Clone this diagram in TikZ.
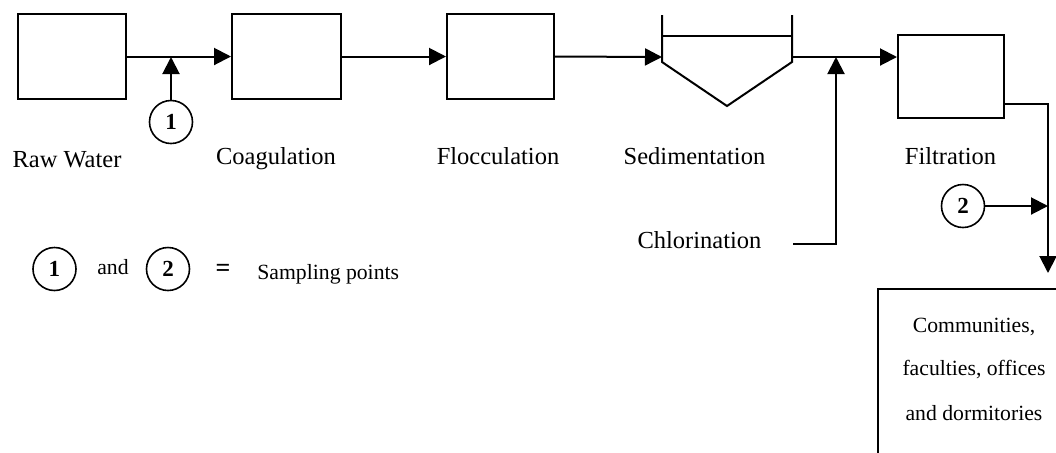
\documentclass[tikz,border=0pt]{standalone}
\usepackage{fontspec}
\setmainfont{Liberation Serif}
\usetikzlibrary{arrows.meta}
\begin{document}
\begin{tikzpicture}[x=0.5pt,y=-0.5pt,
  box/.style={draw,line width=1pt,inner sep=0pt,minimum height=42.5pt},
  flow/.style={line width=1pt,-{Triangle[length=8.5pt,width=8.5pt]}},
  pipe/.style={line width=1pt},
  lbl/.style={font=\fontsize{12.25}{14}\selectfont,anchor=base,inner sep=0pt},
  small/.style={font=\fontsize{10.85}{13}\selectfont,anchor=base,inner sep=0pt},
  spt/.style={draw,circle,line width=0.8pt,minimum size=21.5pt,inner sep=0pt,font=\fontsize{11.5}{13}\selectfont\bfseries}]
\useasboundingbox (0,0) rectangle (1056,452);
\clip (0,0) rectangle (1056,452);
% process boxes
\node[box,minimum width=54pt] (raw) at (72,56.5) {};
\node[box,minimum width=54.5pt] (coag) at (286.5,56.5) {};
\node[box,minimum width=53.5pt] (floc) at (500.5,56.5) {};
\node[box,minimum width=53pt,minimum height=41.5pt] (filt) at (951,76.5) {};
% sedimentation tank
\draw[pipe] (662,15) -- (662,62) -- (727,106) -- (792,62) -- (792,15);
\draw[line width=0.8pt] (662,36) -- (792,36);
\coordinate (sedin) at (662,57);
\coordinate (sedout) at (792,57);
% labels
\node[lbl] (lraw) at (67,167) {Raw Water};
\node[lbl] (lcoag) at (276,164) {Coagulation};
\node[lbl] (lfloc) at (498,164) {Flocculation};
\node[lbl] (lsed) at (694.5,164) {Sedimentation};
\node[lbl] (lfilt) at (950.5,164) {Filtration};
\node[lbl] (lchl) at (699.5,248) {Chlorination};
% sampling points
\node[spt] (c1) at (171,122) {1};
\coordinate (j1) at (171,57);
\node[spt] (c2) at (963,206) {2};
% chlorination feed
\coordinate (chlstart) at (793,244);
\coordinate (j2) at (836,57);
% filtration outlet
\coordinate (fout) at (1048,104);
\coordinate (dtip) at (1048,273);
% connectors
\draw[flow] (raw) -- (coag);
\draw[flow] (coag) -- (floc);
\draw[flow] (floc.east) -- (sedin);
\draw[flow] (sedout) -- (filt.west |- sedout);
\draw[flow] (c1) -- (j1);
\draw[flow] (chlstart) -| (j2);
\draw[flow] ([yshift=-13.75pt]filt.east) -- (fout) -- (dtip);
\draw[flow] (c2) -- (c2 -| fout);
% destination box
\node[draw,line width=1pt,anchor=north west,minimum width=97pt,minimum height=100pt,inner sep=0pt] (dest) at (877,288) {};
\node[small] (d1) at (974,332) {Communities,};
\node[small] (d2) at (974,375) {faculties, offices};
\node[small] (d3) at (974,420) {and dormitories};
% legend
\node[spt] (k1) at (54.5,269) {1};
\node[small] (kand) at (113,274) {and};
\node[spt] (k2) at (168,269) {2};
\node[small,font=\fontsize{13}{15}\selectfont\bfseries] (keq) at (223,276) {=};
\node[small,anchor=base west] (ktxt) at (257,279) {Sampling points};
\end{tikzpicture}
\end{document}
